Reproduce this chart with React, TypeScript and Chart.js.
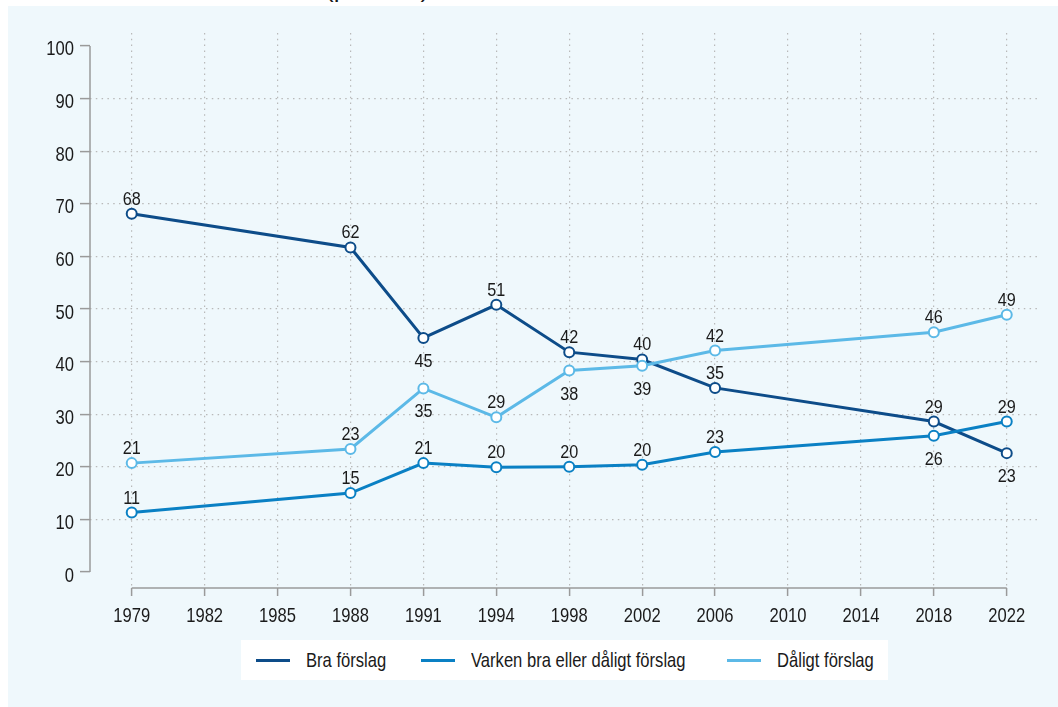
import React, { useEffect, useRef } from 'react';
import { Chart, registerables } from 'chart.js';

Chart.register(...registerables);

// ---- data ----
const xTickLabels = ['1979', '1982', '1985', '1988', '1991', '1994', '1998', '2002', '2006', '2010', '2014', '2018', '2022'];
const surveyYears = ['1979', '1988', '1991', '1994', '1998', '2002', '2006', '2018', '2022'];
const braValues = [68.1, 61.7, 44.5, 50.8, 41.8, 40.4, 35.0, 28.6, 22.6];
const varkenValues = [11.3, 15.0, 20.7, 19.9, 20.0, 20.4, 22.8, 25.9, 28.6];
const daligtValues = [20.7, 23.4, 34.9, 29.4, 38.3, 39.2, 42.1, 45.6, 48.9];
const yTickValues = [0, 10, 20, 30, 40, 50, 60, 70, 80, 90, 100];
const seriesNames = ['Bra förslag', 'Varken bra eller dåligt förslag', 'Dåligt förslag'];

// label placement per point (above / below)
const braLabelPos = ['above', 'above', 'below', 'above', 'above', 'above', 'above', 'above', 'below'];
const varkenLabelPos = ['above', 'above', 'above', 'above', 'above', 'above', 'above', 'below', 'above'];
const daligtLabelPos = ['above', 'above', 'below', 'above', 'below', 'below', 'above', 'above', 'above'];

const COLORS = ['#0d4c89', '#0a80c4', '#5cb9e7'];
const FONT = "'Liberation Sans', Arial, sans-serif";
const TEXT = '#1a1a1a';
const NARROW = 0.79;

const toPoints = (vals: number[]) =>
  vals.map((v, i) => ({ x: xTickLabels.indexOf(surveyYears[i]), y: v }));

const drawScaled = (ctx: any, text: string, x: number, y: number, sx: number, align: string) => {
  ctx.save();
  ctx.translate(x, y);
  ctx.scale(sx, 1);
  ctx.textAlign = align;
  ctx.fillText(text, 0, 0);
  ctx.restore();
};

const axisPlugin = {
  id: 'axisLines',
  beforeDatasetsDraw(chart: any) {
    const { ctx, chartArea } = chart;
    const x = chart.scales.x;
    const y = chart.scales.y;
    ctx.save();
    ctx.strokeStyle = '#9a9a9a';
    ctx.lineWidth = 1.5;
    ctx.setLineDash([]);
    ctx.beginPath();
    ctx.moveTo(chartArea.left, y.getPixelForValue(yTickValues[yTickValues.length - 1]));
    ctx.lineTo(chartArea.left, y.getPixelForValue(yTickValues[0]));
    ctx.moveTo(x.getPixelForValue(0), chartArea.bottom);
    ctx.lineTo(x.getPixelForValue(xTickLabels.length - 1), chartArea.bottom);
    ctx.stroke();

    // tick labels (condensed)
    ctx.fillStyle = TEXT;
    ctx.font = `21px ${FONT}`;
    ctx.textBaseline = 'alphabetic';
    x.ticks.forEach((t: any) => {
      drawScaled(ctx, xTickLabels[t.value], x.getPixelForValue(t.value), chartArea.bottom + 33.5, NARROW, 'center');
    });
    y.ticks.forEach((t: any) => {
      drawScaled(ctx, String(t.value), y.right - 16, y.getPixelForValue(t.value) + 9.5, NARROW, 'right');
    });
    ctx.restore();
  },
};

const labelPositions = [braLabelPos, varkenLabelPos, daligtLabelPos];

const pointLabelPlugin = {
  id: 'pointLabels',
  afterDatasetsDraw(chart: any) {
    const ctx = chart.ctx;
    ctx.save();
    ctx.font = `18px ${FONT}`;
    ctx.fillStyle = TEXT;
    ctx.textBaseline = 'alphabetic';
    chart.data.datasets.forEach((ds: any, di: number) => {
      const meta = chart.getDatasetMeta(di);
      const pos = labelPositions[di];
      meta.data.forEach((pt: any, i: number) => {
        const v = ds.data[i].y;
        const ty = pos[i] === 'below' ? pt.y + 29 : pt.y - 9;
        drawScaled(ctx, String(Math.round(v)), pt.x, ty, 0.9, 'center');
      });
    });
    ctx.restore();
  },
};

export default function App() {
  const canvasRef = useRef<HTMLCanvasElement | null>(null);

  useEffect(() => {
    const canvas = canvasRef.current;
    if (!canvas) return;
    const seriesValues = [braValues, varkenValues, daligtValues];
    const orders = [3, 2, 1];
    const chart = new Chart(canvas, {
      type: 'line',
      data: {
        datasets: seriesValues.map((vals, i) => ({
          label: seriesNames[i],
          data: toPoints(vals),
          borderColor: COLORS[i],
          backgroundColor: COLORS[i],
          borderWidth: 3,
          pointRadius: 5,
          pointBorderWidth: 2,
          pointBackgroundColor: '#ffffff',
          pointBorderColor: COLORS[i],
          pointHoverRadius: 5,
          tension: 0,
          order: orders[i],
        })),
      },
      options: {
        responsive: false,
        animation: false,
        events: [],
        layout: { padding: { left: 0, top: 33, right: 18, bottom: 59 } },
        plugins: {
          legend: { display: false },
          tooltip: { enabled: false },
          title: { display: false },
        },
        scales: {
          x: {
            type: 'linear',
            min: -0.572,
            max: 12.456,
            afterBuildTicks: (scale: any) => {
              scale.ticks = xTickLabels.map((_, i) => ({ value: i }));
            },
            afterFit: (scale: any) => {
              scale.height = 60;
            },
            ticks: { display: false, autoSkip: false, maxRotation: 0, minRotation: 0 },
            grid: {
              color: '#b9b9b9',
              lineWidth: 1.2,
              borderDash: [1.5, 4.3],
              tickColor: '#9a9a9a',
              tickWidth: 1.5,
              tickLength: 8,
              tickBorderDash: [],
            },
            border: { display: false, dash: [1.5, 4.3] },
          },
          y: {
            type: 'linear',
            min: -3.04,
            max: 102.47,
            afterBuildTicks: (scale: any) => {
              scale.ticks = yTickValues.map((v) => ({ value: v }));
            },
            afterFit: (scale: any) => {
              scale.width = 90;
            },
            ticks: { display: false },
            grid: {
              color: (c: any) =>
                c.tick && (c.tick.value === yTickValues[0] || c.tick.value === yTickValues[yTickValues.length - 1])
                  ? 'rgba(0,0,0,0)'
                  : '#b9b9b9',
              lineWidth: 1.2,
              borderDash: [1.5, 4.3],
              tickColor: '#9a9a9a',
              tickWidth: 1.5,
              tickLength: 10,
              tickBorderDash: [],
            },
            border: { display: false, dash: [1.5, 4.3] },
          },
        },
      },
      plugins: [axisPlugin, pointLabelPlugin],
    } as any);
    return () => chart.destroy();
  }, []);

  const legendItems = [
    { line: 15, text: 65 },
    { line: 180, text: 230 },
    { line: 486, text: 536 },
  ];

  return (
    <div style={{ position: 'absolute', left: 0, top: 0, width: 1058, height: 707, background: '#ffffff', overflow: 'hidden' }}>
      <div style={{ position: 'absolute', left: 0, top: 0, width: 1058, height: 6, overflow: 'hidden' }}>
        <span
          style={{
            position: 'absolute',
            left: 325,
            top: -25,
            fontFamily: FONT,
            fontSize: 26,
            lineHeight: '26px',
            color: TEXT,
            whiteSpace: 'nowrap',
          }}
        >
          (procent)
        </span>
      </div>
      <div style={{ position: 'absolute', left: 8, top: 6, width: 1050, height: 701, background: '#eff8fc' }} />
      <div
        style={{
          position: 'absolute',
          left: 241,
          top: 640,
          width: 647,
          height: 40,
          background: '#ffffff',
        }}
      >
        {legendItems.map((it, i) => (
          <React.Fragment key={seriesNames[i]}>
            <div
              style={{
                position: 'absolute',
                left: it.line,
                top: 19,
                width: 34,
                height: 3,
                background: COLORS[i],
              }}
            />
            <div
              style={{
                position: 'absolute',
                left: it.text,
                top: 8,
                fontFamily: FONT,
                fontSize: 21,
                lineHeight: '24px',
                color: TEXT,
                whiteSpace: 'nowrap',
                transform: `scaleX(${NARROW})`,
                transformOrigin: '0 50%',
              }}
            >
              {seriesNames[i]}
            </div>
          </React.Fragment>
        ))}
      </div>
      <canvas
        ref={canvasRef}
        width={1058}
        height={707}
        style={{ position: 'absolute', left: 0, top: 0, width: 1058, height: 707 }}
      />
    </div>
  );
}
